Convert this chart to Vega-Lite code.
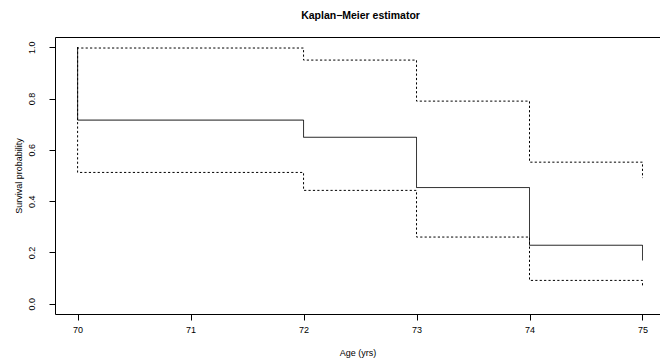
{
  "$schema": "https://vega.github.io/schema/vega-lite/v6.json",
  "width": 605,
  "height": 277,
  "autosize": {"type": "none"},
  "padding": {"left": 55, "top": 37, "right": 0, "bottom": 46},
  "background": "white",
  "config": {
    "view": {"stroke": null},
    "font": "Liberation Sans",
    "axis": {
      "domainColor": "black",
      "tickColor": "black",
      "labelColor": "black",
      "titleColor": "black",
      "labelFont": "Liberation Sans",
      "titleFont": "Liberation Sans",
      "labelFontSize": 9,
      "titleFontSize": 9,
      "titleFontWeight": "normal",
      "tickSize": 6,
      "grid": false,
      "labelFlush": false,
      "labelOverlap": false
    }
  },
  "title": {
    "text": "Kaplan−Meier estimator",
    "font": "Liberation Sans",
    "fontSize": 10.5,
    "fontWeight": "bold",
    "color": "black",
    "anchor": "middle",
    "baseline": "alphabetic",
    "offset": 8,
    "dx": 3
  },
  "data": {
    "values": [
      {"series": "km", "step": 0, "age": 70, "surv": 1.0},
      {"series": "km", "step": 1, "age": 70, "surv": 0.716},
      {"series": "km", "step": 2, "age": 72, "surv": 0.649},
      {"series": "km", "step": 3, "age": 73, "surv": 0.453},
      {"series": "km", "step": 4, "age": 74, "surv": 0.228},
      {"series": "km", "step": 5, "age": 75, "surv": 0.169},
      {"series": "upper", "step": 0, "age": 70, "surv": 1.0},
      {"series": "upper", "step": 1, "age": 70, "surv": 0.997},
      {"series": "upper", "step": 2, "age": 72, "surv": 0.95},
      {"series": "upper", "step": 3, "age": 73, "surv": 0.79},
      {"series": "upper", "step": 4, "age": 74, "surv": 0.552},
      {"series": "upper", "step": 5, "age": 75, "surv": 0.49},
      {"series": "lower", "step": 0, "age": 70, "surv": 1.0},
      {"series": "lower", "step": 1, "age": 70, "surv": 0.512},
      {"series": "lower", "step": 2, "age": 72, "surv": 0.442},
      {"series": "lower", "step": 3, "age": 73, "surv": 0.26},
      {"series": "lower", "step": 4, "age": 74, "surv": 0.091},
      {"series": "lower", "step": 5, "age": 75, "surv": 0.068}
    ]
  },
  "layer": [
    {
      "mark": {"type": "line", "interpolate": "step-after", "color": "black", "strokeWidth": 1},
      "encoding": {
        "x": {
          "field": "age",
          "type": "quantitative",
          "scale": {"domain": [69.8, 75.155], "nice": false, "zero": false},
          "axis": {
            "values": [70, 71, 72, 73, 74, 75],
            "format": "d",
            "labelPadding": 5,
            "title": "Age (yrs)",
            "titleY": 41,
            "titleBaseline": "alphabetic"
          }
        },
        "y": {
          "field": "surv",
          "type": "quantitative",
          "scale": {"domain": [-0.04, 1.04], "nice": false, "zero": false},
          "axis": {
            "values": [0, 0.2, 0.4, 0.6, 0.8, 1.0],
            "format": ".1f",
            "labelAngle": -90,
            "labelAlign": "center",
            "labelBaseline": "bottom",
            "labelPadding": 13,
            "title": "Survival probability",
            "titleAngle": -90,
            "titleX": -34,
            "titleBaseline": "alphabetic"
          }
        },
        "detail": {"field": "series"},
        "order": {"field": "step", "type": "quantitative"},
        "strokeDash": {
          "field": "series",
          "type": "nominal",
          "scale": {"domain": ["km", "lower", "upper"], "range": [[1, 0], [2.2, 2.2], [2.2, 2.2]]},
          "legend": null
        }
      }
    },
    {
      "mark": {"type": "line", "opacity": 0},
      "encoding": {
        "x": {
          "field": "age",
          "type": "quantitative",
          "axis": {"orient": "top", "ticks": false, "labels": false, "title": null}
        }
      }
    }
  ],
  "resolve": {"axis": {"x": "independent"}}
}
